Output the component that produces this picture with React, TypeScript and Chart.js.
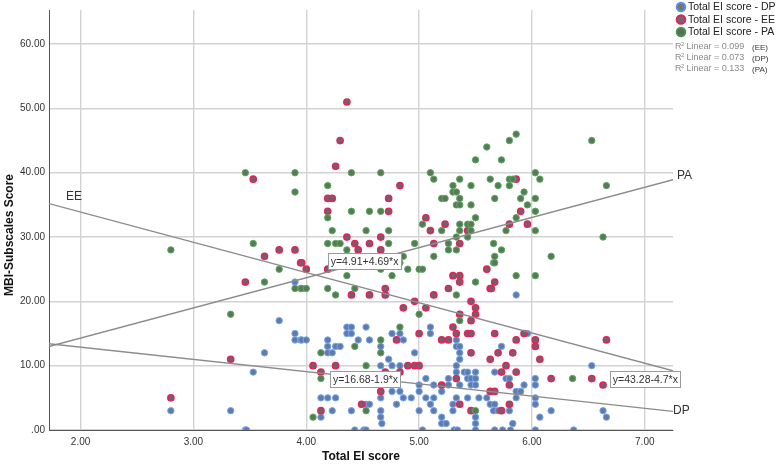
import React, { useEffect, useRef } from "react";
import { Chart, registerables } from "chart.js";

Chart.register(...registerables);

// ---- axes ----
const xTicks = [2, 3, 4, 5, 6, 7];
const yTicks = [0, 10, 20, 30, 40, 50, 60];
const xMin = 1.72;
const xMax = 7.25;
const yMin = 0;
const yMax = 65.3;

// ---- legend / labels ----
const seriesNames = ["Total EI score - DP", "Total EI score - EE", "Total EI score - PA"];
const r2Labels = ["(EE)", "(DP)", "(PA)"];
const r2Values = ["0.099", "0.073", "0.133"];

// ---- fit coefficients [intercept, slope] ----
const eeFit = [43.28, -4.7];
const dpFit = [16.68, -1.9];
const paFit = [4.91, 4.69];
const eqTexts = ["y=4.91+4.69*x", "y=16.68-1.9*x", "y=43.28-4.7*x"];
const eqAnchors: [number, number][] = [[4.19, 26.2], [4.21, 7.9], [6.69, 7.9]];

// ---- data [Total EI score, subscale score] ----
const dpPoints: [number, number][] = [
  [2.8, 3], [3.33, 3], [3.46, 0], [3.53, 9], [3.63, 12], [3.76, 17], [3.9, 23], [3.9, 15], [3.9, 14], [3.95, 14],
  [4.36, 16], [4.4, 16], [4.53, 16], [5.1, 16],
  [4.36, 15], [4.4, 15], [4.76, 15], [4.83, 15], [5.1, 15],
  [3.96, 14], [4.0, 14], [4.19, 14], [4.46, 14], [4.56, 14], [4.86, 14], [5.33, 14],
  [4.19, 13], [4.26, 13], [4.3, 13], [4.66, 13], [5.33, 13], [5.36, 13],
  [4.19, 12], [4.23, 12], [4.96, 12], [5.36, 12],
  [4.73, 11], [5.36, 11],
  [4.66, 10], [4.76, 10], [4.83, 10], [5.33, 10],
  [5.33, 9], [5.4, 9], [5.43, 9], [5.5, 9],
  [4.66, 8], [4.76, 8], [5.06, 8], [5.26, 8], [5.43, 8], [5.46, 8], [5.5, 8],
  [5.0, 7], [5.13, 7], [5.26, 7], [5.36, 7], [5.46, 7], [5.5, 7],
  [4.76, 6], [4.83, 6], [5.0, 6], [5.2, 6],
  [4.13, 5], [4.19, 5], [4.26, 5], [4.66, 5], [4.86, 5], [4.93, 5], [5.06, 5], [5.13, 5], [5.33, 5], [5.43, 5], [5.53, 5], [5.6, 5],
  [4.53, 4], [4.56, 4], [4.8, 4], [5.1, 4], [5.3, 4], [5.63, 4],
  [4.23, 3], [4.4, 3], [4.66, 3], [5.0, 3], [5.13, 3], [5.3, 3], [5.66, 3],
  [4.13, 2], [4.66, 2], [5.2, 2], [5.5, 2],
  [4.67, 1], [5.2, 1], [5.24, 1], [5.5, 1], [5.83, 1],
  [3.47, 0], [4.43, 0], [4.51, 0], [4.53, 0], [5.03, 0], [5.31, 0], [5.34, 0], [5.5, 0], [5.67, 0], [5.74, 0], [5.81, 0], [6.03, 0], [6.37, 0],
  [5.86, 21], [5.96, 15], [5.73, 13], [6.53, 10], [5.67, 9], [5.77, 8], [5.8, 8], [6.03, 8], [5.93, 7], [6.03, 7],
  [5.86, 6], [5.9, 6], [5.86, 5], [6.03, 5], [5.67, 4], [6.03, 4], [5.7, 3], [5.8, 3], [6.17, 3], [6.63, 3], [6.07, 2], [6.66, 2],
];

const eePoints: [number, number][] = [
  [2.8, 5], [3.33, 11], [3.53, 39], [3.46, 23], [3.63, 27], [3.76, 28], [3.9, 28], [3.95, 26],
  [4.36, 51], [4.3, 45], [4.26, 41], [4.83, 38], [4.19, 36], [4.23, 36], [4.73, 36], [4.19, 34], [4.73, 34],
  [5.06, 33], [5.23, 32], [5.1, 31], [5.43, 31], [4.36, 30], [4.66, 30], [4.43, 29], [4.56, 29], [5.13, 29],
  [5.36, 29], [4.46, 28], [4.66, 28], [5.6, 25], [3.96, 26], [4.0, 25], [4.19, 25],
  [5.3, 24], [5.36, 24], [5.36, 23], [4.7, 22], [5.26, 22], [5.63, 22], [4.4, 21], [4.56, 21], [4.7, 21], [5.13, 21],
  [4.96, 20], [5.46, 20], [4.86, 19], [5.06, 19], [5.5, 19], [5.36, 18], [5.5, 18], [5.46, 17], [5.3, 16],
  [5.0, 15], [5.33, 15], [5.43, 15], [5.46, 15], [4.8, 14], [5.2, 14], [5.26, 14], [5.46, 12], [5.63, 11],
  [4.06, 10], [4.26, 10], [4.9, 10], [4.96, 10], [5.0, 10], [4.13, 9], [4.7, 9], [4.83, 9], [5.33, 8], [5.2, 7],
  [4.66, 6], [5.63, 6], [4.49, 4], [5.36, 4], [4.13, 3], [5.46, 3],
  [5.86, 39], [5.9, 34], [5.8, 32], [5.96, 32], [5.67, 23], [5.64, 22], [5.67, 15], [5.93, 15], [5.86, 14],
  [6.03, 14], [6.66, 14], [6.03, 13], [5.7, 12], [5.83, 12], [6.07, 11], [5.77, 10], [5.73, 9], [5.86, 9],
  [6.17, 8], [6.53, 8], [5.8, 7], [6.63, 7], [5.67, 6], [5.8, 4], [5.73, 3],
];

const paPoints: [number, number][] = [
  [2.8, 28], [3.33, 18], [3.46, 40], [3.53, 29], [3.63, 23], [3.76, 25], [3.9, 40], [3.9, 37], [3.9, 22], [3.95, 22],
  [4.4, 40], [4.66, 40], [4.19, 38], [5.1, 40], [5.13, 39], [5.6, 44], [5.5, 42], [5.36, 39], [5.63, 39], [5.3, 38],
  [5.46, 38], [5.3, 37], [5.33, 37], [5.2, 36], [5.23, 36], [5.36, 36], [5.33, 35], [5.36, 35], [5.46, 35],
  [4.19, 33], [4.4, 34], [4.56, 34], [4.66, 34], [4.23, 31], [4.53, 31], [4.73, 31], [5.03, 32], [5.2, 31],
  [5.36, 32], [5.43, 32], [5.46, 32], [5.5, 33], [5.36, 31], [5.46, 31], [5.33, 30], [5.43, 30],
  [4.19, 29], [4.26, 29], [4.3, 29], [4.73, 29], [4.96, 29], [5.26, 29], [5.66, 29], [4.36, 28], [4.83, 27],
  [4.86, 27], [5.13, 27], [5.26, 28], [5.33, 28], [5.66, 26], [4.83, 26], [4.9, 25], [5.0, 25], [5.03, 25],
  [4.66, 25], [4.36, 24], [4.76, 24], [5.5, 23], [3.96, 22], [4.0, 22], [4.19, 22], [4.43, 22], [4.26, 21],
  [5.33, 21], [5.0, 18], [5.36, 17], [4.83, 16], [4.66, 14], [4.43, 13], [4.13, 12], [4.66, 12], [4.53, 10],
  [4.13, 8], [4.53, 3], [5.5, 3], [4.06, 2],
  [5.86, 46], [5.8, 45], [6.53, 45], [5.73, 42], [6.03, 40], [6.07, 39], [5.8, 39], [5.83, 39], [5.7, 38],
  [5.8, 38], [6.66, 38], [5.93, 37], [5.67, 36], [5.9, 36], [6.03, 36], [5.96, 35], [6.03, 34], [5.86, 33],
  [5.77, 31], [6.03, 31], [6.63, 30], [5.73, 28], [5.67, 27], [5.67, 26], [6.17, 27], [5.86, 24], [6.03, 24], [6.36, 8],
];

const FONT = "'Liberation Sans', Arial, sans-serif";

const fitLine = (c: number[]) => [
  { x: xMin, y: c[0] + c[1] * xMin },
  { x: xMax, y: c[0] + c[1] * xMax },
];

const toXY = (pts: [number, number][]) => pts.map(([x, y]) => ({ x, y }));

const fmt2 = (v: number) => (v === 0 ? ".00" : v.toFixed(2));

const overlayPlugin = {
  id: "overlay",
  afterDraw(chart: any) {
    const ctx = chart.ctx as CanvasRenderingContext2D;
    const xs = chart.scales.x;
    const ys = chart.scales.y;
    const area = chart.chartArea;
    ctx.save();

    // Axis titles
    ctx.fillStyle = "#111";
    ctx.font = `bold 12px ${FONT}`;
    ctx.textAlign = "center";
    ctx.textBaseline = "middle";
    ctx.fillText("Total EI score", (area.left + area.right) / 2, 457);
    ctx.save();
    ctx.translate(10, 235);
    ctx.rotate(-Math.PI / 2);
    ctx.fillText("MBI-Subscales Score", 0, 0);
    ctx.restore();

    // Line labels
    ctx.font = `12px ${FONT}`;
    ctx.fillStyle = "#333";
    ctx.textAlign = "left";
    const eeStartY = ys.getPixelForValue(eeFit[0] + eeFit[1] * xMin);
    ctx.fillText("EE", xs.getPixelForValue(xMin) + 17, eeStartY - 7);
    const paEndY = ys.getPixelForValue(paFit[0] + paFit[1] * xMax);
    ctx.fillText("PA", xs.getPixelForValue(xMax) + 4, paEndY - 4);
    const dpEndY = ys.getPixelForValue(dpFit[0] + dpFit[1] * xMax);
    ctx.fillText("DP", xs.getPixelForValue(xMax), dpEndY - 1);

    // Equation boxes
    ctx.font = `10.5px ${FONT}`;
    eqTexts.forEach((t, i) => {
      const bx = xs.getPixelForValue(eqAnchors[i][0]);
      const by = ys.getPixelForValue(eqAnchors[i][1]);
      const w = ctx.measureText(t).width + 5;
      const h = 16;
      ctx.fillStyle = "#ffffff";
      ctx.fillRect(Math.round(bx) + 0.5, Math.round(by - h / 2) + 0.5, Math.round(w), h);
      ctx.strokeStyle = "#9a9a9a";
      ctx.lineWidth = 1;
      ctx.strokeRect(Math.round(bx) + 0.5, Math.round(by - h / 2) + 0.5, Math.round(w), h);
      ctx.fillStyle = "#333";
      ctx.textAlign = "left";
      ctx.fillText(t, bx + 3, by + 1);
    });

    // Legend
    const legendColors = [
      { ring: "#5b8fe0", fill: "#6e7680" },
      { ring: "#e0245c", fill: "#6e6a6c" },
      { ring: "#3f9a44", fill: "#5f6a5f" },
    ];
    seriesNames.forEach((name, i) => {
      const cy = 7 + i * 12.5;
      ctx.beginPath();
      ctx.arc(681, cy, 4.3, 0, Math.PI * 2);
      ctx.fillStyle = legendColors[i].fill;
      ctx.fill();
      ctx.lineWidth = 2;
      ctx.strokeStyle = legendColors[i].ring;
      ctx.stroke();
      ctx.fillStyle = "#222";
      ctx.font = `10.5px ${FONT}`;
      ctx.textAlign = "left";
      ctx.textBaseline = "middle";
      ctx.fillText(name, 688, cy + 0.5);
    });

    // R² lines
    r2Values.forEach((v, i) => {
      const cy = 47 + i * 11;
      ctx.fillStyle = "#8a8a8a";
      ctx.font = `9px ${FONT}`;
      ctx.textAlign = "left";
      ctx.fillText("R", 675, cy);
      ctx.font = `6px ${FONT}`;
      ctx.fillText("2", 681, cy - 3);
      ctx.font = `9px ${FONT}`;
      ctx.fillText(` Linear = ${v}`, 684, cy);
      ctx.fillStyle = "#333";
      ctx.font = `8px ${FONT}`;
      ctx.fillText(r2Labels[i], 752, cy + 0.5);
    });

    ctx.restore();
  },
};

export default function App() {
  const canvasRef = useRef<HTMLCanvasElement | null>(null);

  useEffect(() => {
    const canvas = canvasRef.current;
    if (!canvas) return;
    const lineStyle = {
      type: "line" as const,
      borderColor: "#8c8c8c",
      borderWidth: 1.3,
      pointRadius: 0,
      showLine: true,
      fill: false,
      order: 0,
    };
    const chart = new Chart(canvas, {
      type: "scatter",
      data: {
        datasets: [
          { ...lineStyle, label: "EE fit", data: fitLine(eeFit) },
          { ...lineStyle, label: "DP fit", data: fitLine(dpFit) },
          { ...lineStyle, label: "PA fit", data: fitLine(paFit) },
          {
            label: seriesNames[2],
            data: toXY(paPoints),
            backgroundColor: "#567a56",
            borderColor: "#5ea860",
            borderWidth: 1,
            pointRadius: 3.2,
            order: 1,
          },
          {
            label: seriesNames[1],
            data: toXY(eePoints),
            backgroundColor: "#6d6467",
            borderColor: "#e0245c",
            borderWidth: 1.5,
            pointRadius: 3.1,
            order: 2,
          },
          {
            label: seriesNames[0],
            data: toXY(dpPoints),
            backgroundColor: "#5f7bab",
            borderColor: "#78a6ec",
            borderWidth: 1,
            pointRadius: 3.2,
            order: 3,
          },
        ] as any,
      },
      options: {
        responsive: false,
        animation: false,
        devicePixelRatio: 1,
        layout: { padding: { top: 1, right: 104, left: 0, bottom: 0 } },
        plugins: { legend: { display: false }, tooltip: { enabled: false } },
        scales: {
          x: {
            type: "linear",
            min: xMin,
            max: xMax,
            afterBuildTicks: (s: any) => {
              s.ticks = xTicks.map((v) => ({ value: v }));
            },
            afterFit: (s: any) => {
              s.height = 34;
            },
            ticks: {
              callback: (v: any) => Number(v).toFixed(2),
              font: { family: FONT, size: 10 },
              color: "#333",
              padding: 6,
              maxRotation: 0,
            },
            grid: { color: "#d2d2d2", lineWidth: 1.4, drawTicks: false },
            border: { color: "#555", width: 1 },
          },
          y: {
            type: "linear",
            min: yMin,
            max: yMax,
            afterBuildTicks: (s: any) => {
              s.ticks = yTicks.map((v) => ({ value: v }));
            },
            afterFit: (s: any) => {
              s.width = 49;
            },
            ticks: {
              callback: (v: any) => fmt2(Number(v)),
              font: { family: FONT, size: 10 },
              color: "#333",
              padding: 4,
            },
            grid: { color: "#d2d2d2", lineWidth: 1.4, drawTicks: false },
            border: { color: "#555", width: 1 },
          },
        },
      },
      plugins: [overlayPlugin],
    });
    return () => chart.destroy();
  }, []);

  return (
    <div style={{ position: "absolute", left: 0, top: 0, width: 777, height: 464, background: "#fff" }}>
      <canvas ref={canvasRef} width={777} height={464} />
    </div>
  );
}
